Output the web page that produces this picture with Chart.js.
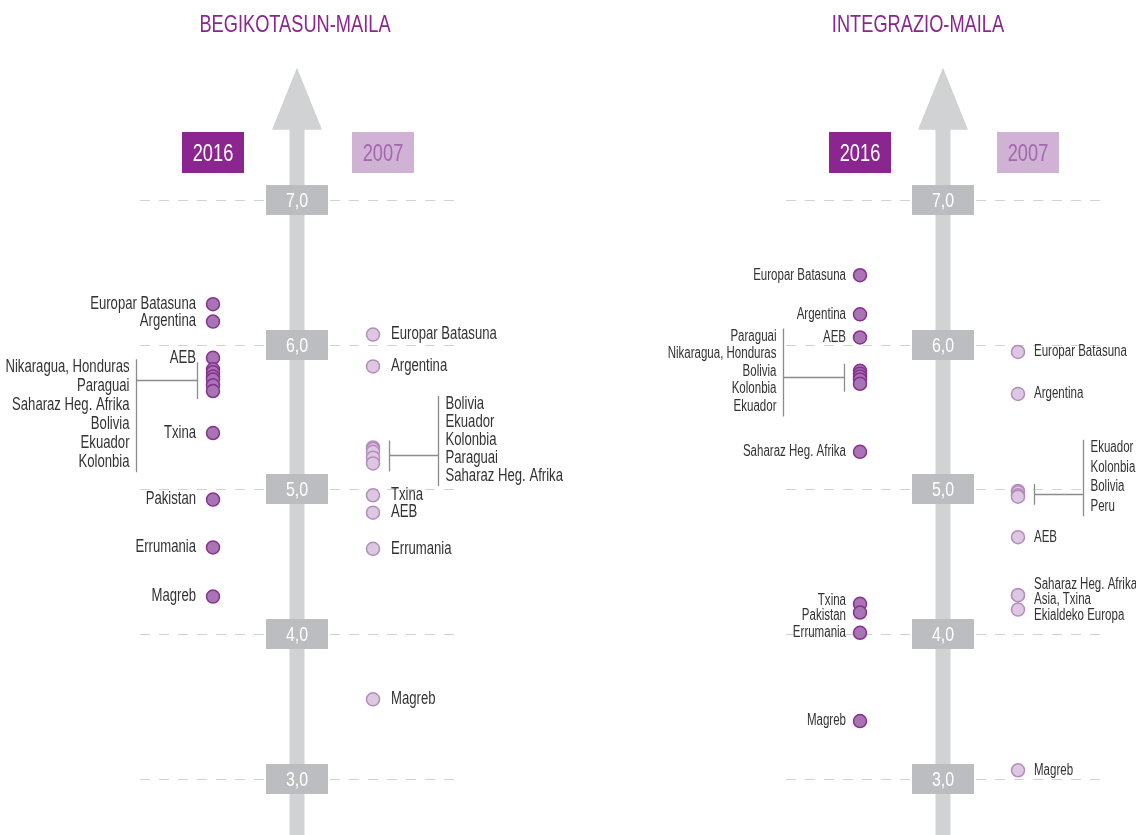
<!DOCTYPE html>
<html>
<head>
<meta charset="utf-8">
<script src="https://cdn.jsdelivr.net/npm/chart.js@4.4.1/dist/chart.umd.min.js"></script>
<style>
  body { margin: 0; background: #fff; width: 1136px; height: 835px; overflow: hidden; position: relative; }
  .panel { position: absolute; top: 0; width: 568px; height: 835px; }
</style>
</head>
<body>
<div class="panel" style="left:0"><canvas id="begi" width="568" height="835"></canvas></div>
<div class="panel" style="left:568px"><canvas id="integ" width="568" height="835"></canvas></div>
<script>
const years = ['2016', '2007'];
const tickValues = [3, 4, 5, 6, 7];
const tickLabels = ['3,0', '4,0', '5,0', '6,0', '7,0'];

// BEGIKOTASUN-MAILA
const begiNames2016 = ['Europar Batasuna', 'Argentina', 'AEB', 'Nikaragua, Honduras', 'Paraguai', 'Saharaz Heg. Afrika',
  'Bolivia', 'Ekuador', 'Kolonbia', 'Txina', 'Pakistan', 'Errumania', 'Magreb'];
const begiValues2016 = [6.28, 6.16, 5.91, 5.83, 5.81, 5.78, 5.76, 5.72, 5.68, 5.39, 4.93, 4.60, 4.26];
const begiGroup2016 = ['Nikaragua, Honduras', 'Paraguai', 'Saharaz Heg. Afrika', 'Bolivia', 'Ekuador', 'Kolonbia'];

const begiNames2007 = ['Europar Batasuna', 'Argentina', 'Bolivia', 'Ekuador', 'Kolonbia', 'Paraguai', 'Saharaz Heg. Afrika',
  'Txina', 'AEB', 'Errumania', 'Magreb'];
const begiValues2007 = [6.07, 5.85, 5.29, 5.28, 5.26, 5.22, 5.18, 4.96, 4.84, 4.59, 3.55];
const begiGroup2007 = ['Bolivia', 'Ekuador', 'Kolonbia', 'Paraguai', 'Saharaz Heg. Afrika'];

// INTEGRAZIO-MAILA
const integNames2016 = ['Europar Batasuna', 'Argentina', 'AEB', 'Paraguai', 'Nikaragua, Honduras', 'Bolivia', 'Kolonbia',
  'Ekuador', 'Saharaz Heg. Afrika', 'Txina', 'Pakistan', 'Errumania', 'Magreb'];
const integValues2016 = [6.48, 6.21, 6.05, 5.82, 5.80, 5.78, 5.76, 5.73, 5.26, 4.21, 4.15, 4.01, 3.40];
const integGroup2016 = ['Paraguai', 'Nikaragua, Honduras', 'Bolivia', 'Kolonbia', 'Ekuador'];

const integNames2007 = ['Europar Batasuna', 'Argentina', 'Ekuador', 'Kolonbia', 'Bolivia', 'Peru', 'AEB',
  'Saharaz Heg. Afrika', 'Asia, Txina', 'Ekialdeko Europa', 'Magreb'];
const integValues2007 = [5.95, 5.66, 4.99, 4.98, 4.96, 4.95, 4.67, 4.27, 4.27, 4.17, 3.06];
const integGroup2007 = ['Ekuador', 'Kolonbia', 'Bolivia', 'Peru'];

const FONT = "'Liberation Sans', Arial, sans-serif";
const PURPLE = '#8B2590';
const LIGHT = '#D0B2D5';

// draws horizontally condensed text
function txt(ctx, s, x, y, align, size, color, squeeze) {
  ctx.save();
  ctx.font = size + 'px ' + FONT;
  ctx.fillStyle = color;
  ctx.textAlign = align;
  ctx.textBaseline = 'middle';
  ctx.translate(x, y);
  ctx.scale(squeeze || 0.76, 1);
  ctx.fillText(s, 0, 0);
  ctx.restore();
}

function box(ctx, cx, cy, w, h, fill, text, color, size) {
  ctx.fillStyle = fill;
  ctx.fillRect(Math.round(cx - w / 2), Math.round(cy - h / 2), w, h);
  txt(ctx, text, cx, cy + 1, 'center', size, color);
}

// push overlapping single labels apart
function relax(ys, gap) {
  for (let k = 0; k < 60; k++) {
    for (let i = 1; i < ys.length; i++) {
      const d = ys[i].y - ys[i - 1].y;
      if (d < gap) {
        const s = (gap - d) / 2;
        ys[i - 1].y -= s;
        ys[i].y += s;
      }
    }
  }
}

const panelArt = {
  id: 'panelArt',
  beforeDatasetsDraw(chart, args, o) {
    const ctx = chart.ctx, xs = chart.scales.x, ys = chart.scales.y;
    const x16 = xs.getPixelForValue(0), x07 = xs.getPixelForValue(1);
    const ax = x16 + o.axisShift;
    ctx.save();
    txt(ctx, o.title, o.titleX, 25, 'center', 24, PURPLE);
    // dashed grid
    ctx.strokeStyle = '#D2D2D2';
    ctx.lineWidth = 1.2;
    ctx.setLineDash([10, 9]);
    tickValues.forEach(v => {
      const y = Math.round(ys.getPixelForValue(v)) + 0.5;
      ctx.beginPath();
      ctx.moveTo(ax - 157, y);
      ctx.lineTo(ax + 158, y);
      ctx.stroke();
    });
    ctx.setLineDash([]);
    // arrow
    ctx.fillStyle = '#D1D2D4';
    const top = chart.chartArea.top - 2;
    ctx.fillRect(ax - 7.5, top + 60, 15, chart.height - top - 60);
    ctx.beginPath();
    ctx.moveTo(ax, top);
    ctx.lineTo(ax + 25, top + 62);
    ctx.lineTo(ax - 25, top + 62);
    ctx.closePath();
    ctx.fill();
    // tick boxes
    tickValues.forEach((v, i) => {
      box(ctx, ax, ys.getPixelForValue(v), 62, 30, '#BCBDC0', tickLabels[i], '#fff', 21);
    });
    // year boxes
    const yb = ys.getPixelForValue(7) - 47;
    box(ctx, x16, yb, 62, 41, PURPLE, years[0], '#fff', 24);
    box(ctx, x07 + 10, yb, 62, 41, LIGHT, years[1], '#A466AE', 24);
    ctx.restore();
  },
  afterDatasetsDraw(chart, args, o) {
    const ctx = chart.ctx, ys = chart.scales.y;
    const fs = o.fontSize, sq = o.squeeze;
    ctx.save();
    chart.data.datasets.forEach((ds, di) => {
      const dir = di === 0 ? -1 : 1;
      const align = dir < 0 ? 'right' : 'left';
      const dotX = chart.scales.x.getPixelForValue(di);
      const names = ds.names, group = ds.group;
      // single labels
      const singles = [];
      names.forEach((n, i) => {
        if (!group.includes(n)) singles.push({ n, y: ys.getPixelForValue(ds.data[i].y) });
      });
      singles.sort((a, b) => a.y - b.y);
      relax(singles, 15.5);
      singles.forEach(s => txt(ctx, s.n, dotX + dir * o.labelGap[di], s.y, align, fs, '#333', sq));
      // bracketed list
      const gy = names.map((n, i) => group.includes(n) ? ys.getPixelForValue(ds.data[i].y) : null).filter(v => v !== null);
      const minY = Math.min(...gy), maxY = Math.max(...gy);
      const tickX = Math.round(dotX + dir * 16) + 0.5;
      const longX = Math.round(dotX + dir * o.longOff[di]) + 0.5;
      const hY = Math.round((minY + maxY) / 2) + 0.5;
      const sp = o.spacing[di];
      const first = hY - o.anchor[di] * sp;
      const last = first + (group.length - 1) * sp;
      ctx.strokeStyle = '#8C8C8C';
      ctx.lineWidth = 1.3;
      ctx.beginPath();
      ctx.moveTo(tickX, minY - 7); ctx.lineTo(tickX, maxY + 8);
      ctx.moveTo(tickX, hY); ctx.lineTo(longX, hY);
      ctx.moveTo(longX, first - 8); ctx.lineTo(longX, last + 10);
      ctx.stroke();
      group.forEach((n, i) => txt(ctx, n, longX + dir * 7, first + i * sp, align, fs, '#333', sq));
    });
    ctx.restore();
  }
};

function makePanel(id, title, v16, n16, g16, v07, n07, g07, opts) {
  new Chart(document.getElementById(id), {
    type: 'scatter',
    data: {
      labels: years,
      datasets: [
        {
          data: v16.map(v => ({ x: years[0], y: v })),
          names: n16, group: g16,
          backgroundColor: '#A874B3', borderColor: '#87308F', borderWidth: 1.5,
          pointRadius: 6.5, clip: false
        },
        {
          data: v07.map(v => ({ x: years[1], y: v })),
          names: n07, group: g07,
          backgroundColor: '#DCC8E0', borderColor: '#B68CBE', borderWidth: 1.5,
          pointRadius: 6.5, clip: false
        }
      ]
    },
    options: {
      responsive: false,
      animation: false,
      events: [],
      layout: { padding: { left: opts.left, right: 568 - opts.right, top: 69.7, bottom: 12.6 } },
      scales: {
        x: { type: 'category', labels: years, offset: false, display: false },
        y: { min: 2.7, max: 7.9, display: false }
      },
      plugins: {
        legend: { display: false },
        tooltip: { enabled: false },
        panelArt: {
          title, titleX: opts.titleX, axisShift: opts.axisShift,
          fontSize: opts.fontSize, squeeze: opts.squeeze,
          labelGap: opts.labelGap, longOff: [77, 65], anchor: opts.anchor, spacing: opts.spacing
        }
      }
    },
    plugins: [panelArt]
  });
}

makePanel('begi', 'BEGIKOTASUN-MAILA',
  begiValues2016, begiNames2016, begiGroup2016,
  begiValues2007, begiNames2007, begiGroup2007,
  { left: 213, right: 373, axisShift: 84, titleX: 295, fontSize: 17.5, squeeze: 0.75, labelGap: [17, 18],
    anchor: [0.7, 2.86], spacing: [19, 18] });

makePanel('integ', 'INTEGRAZIO-MAILA',
  integValues2016, integNames2016, integGroup2016,
  integValues2007, integNames2007, integGroup2007,
  { left: 292, right: 450, axisShift: 83, titleX: 350, fontSize: 16, squeeze: 0.72, labelGap: [14, 16],
    anchor: [2.35, 2.4], spacing: [17.5, 19.5] });
</script>
</body>
</html>
